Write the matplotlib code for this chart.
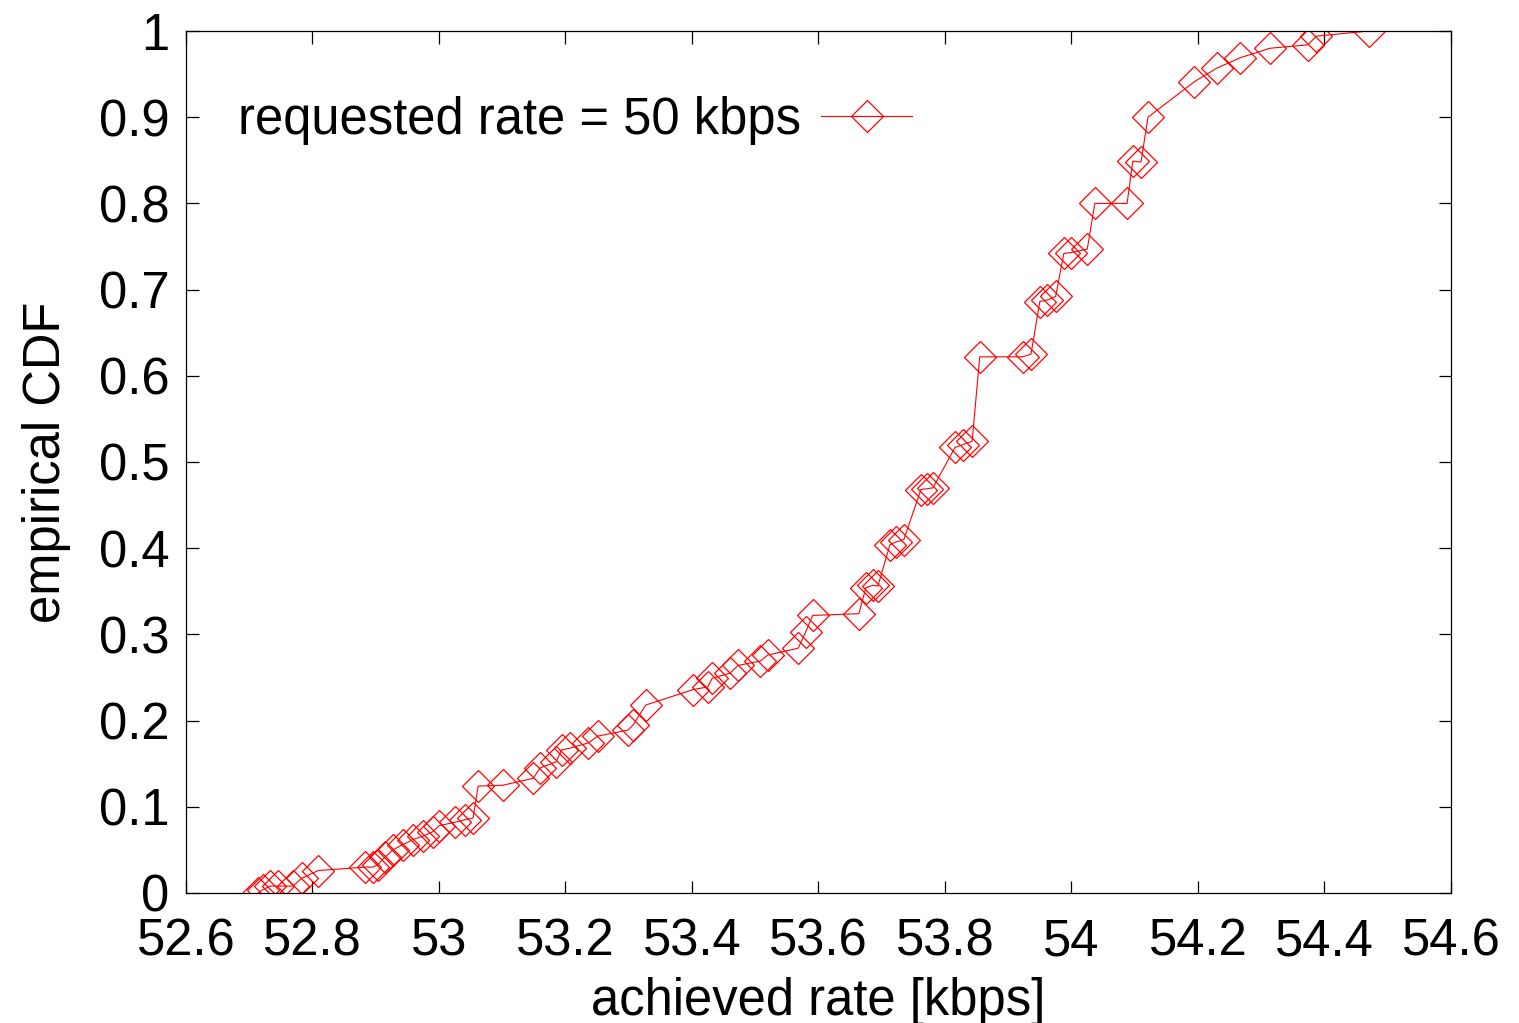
import numpy as np
from matplotlib import pyplot as plt
from matplotlib.ticker import FuncFormatter

# achieved rate [kbps] and empirical CDF
rate = [52.714, 52.722, 52.733, 52.745, 52.769, 52.783, 52.809,
        52.883, 52.895, 52.904, 52.915, 52.927, 52.943, 52.959, 52.975,
        52.990, 53.000, 53.025, 53.041, 53.054, 53.062, 53.101,
        53.149, 53.160, 53.185, 53.194, 53.207, 53.236, 53.251, 53.299,
        53.307, 53.327, 53.402, 53.425, 53.432, 53.460, 53.473, 53.508,
        53.520, 53.568, 53.580, 53.591, 53.664, 53.675, 53.686, 53.694,
        53.713, 53.722, 53.735, 53.762, 53.772, 53.781, 53.816, 53.828,
        53.843, 53.855, 53.923, 53.936, 53.950, 53.962, 53.975, 53.988,
        54.000, 54.025, 54.037, 54.088, 54.097, 54.110, 54.121, 54.194,
        54.230, 54.267, 54.314, 54.374, 54.387, 54.470]
cdf = [0.000, 0.004, 0.008, 0.008, 0.008, 0.017, 0.026,
       0.030, 0.030, 0.033, 0.042, 0.050, 0.056, 0.062, 0.066,
       0.071, 0.078, 0.082, 0.085, 0.087, 0.124, 0.125,
       0.133, 0.145, 0.152, 0.166, 0.168, 0.174, 0.182, 0.189,
       0.195, 0.218, 0.236, 0.239, 0.249, 0.255, 0.264, 0.269,
       0.276, 0.284, 0.303, 0.322, 0.324, 0.354, 0.357, 0.356,
       0.404, 0.407, 0.410, 0.468, 0.469, 0.470, 0.517, 0.520,
       0.524, 0.622, 0.622, 0.625, 0.686, 0.688, 0.692, 0.742,
       0.743, 0.747, 0.800, 0.800, 0.849, 0.848, 0.900, 0.941,
       0.957, 0.969, 0.980, 0.984, 0.994, 1.000]

xticks = np.arange(52.6, 54.61, 0.2)
yticks = np.arange(0, 1.01, 0.1)

FS = 36.5
plt.rcParams['font.family'] = ['Liberation Sans', 'DejaVu Sans']

fig = plt.figure(figsize=(15.19, 10.23), dpi=100)
ax = fig.add_axes([0.1224, 0.1271, 0.8328, 0.8426])

ax.plot(rate, cdf, color='#ff0000', lw=0.8, marker='D', ms=16,
        mfc='none', mec='#ff0000', mew=0.9, label='requested rate = 50 kbps')

ax.set_xlim(52.6, 54.6)
ax.set_ylim(0, 1)
ax.set_xticks(xticks)
ax.set_yticks(yticks)
ax.xaxis.set_major_formatter(FuncFormatter(lambda v, p: '%g' % round(v, 2)))
ax.yaxis.set_major_formatter(FuncFormatter(lambda v, p: '%g' % round(v, 2)))
ax.tick_params(direction='in', length=9, width=0.9, top=True, right=True,
               labelsize=FS)
ax.tick_params(axis='x', pad=18)
ax.tick_params(axis='y', pad=12)
for s in ax.spines.values():
    s.set_linewidth(0.9)

ax.set_xlabel('achieved rate [kbps]', fontsize=FS, labelpad=7)
ax.set_ylabel('empirical CDF', fontsize=FS, labelpad=20)

ax.legend(loc='center left', bbox_to_anchor=(0.041, 0.896), frameon=False,
          markerfirst=False, fontsize=FS, handlelength=1.8,
          handletextpad=0.4, borderpad=0, borderaxespad=0)

fig.savefig('out.png', dpi=100)
